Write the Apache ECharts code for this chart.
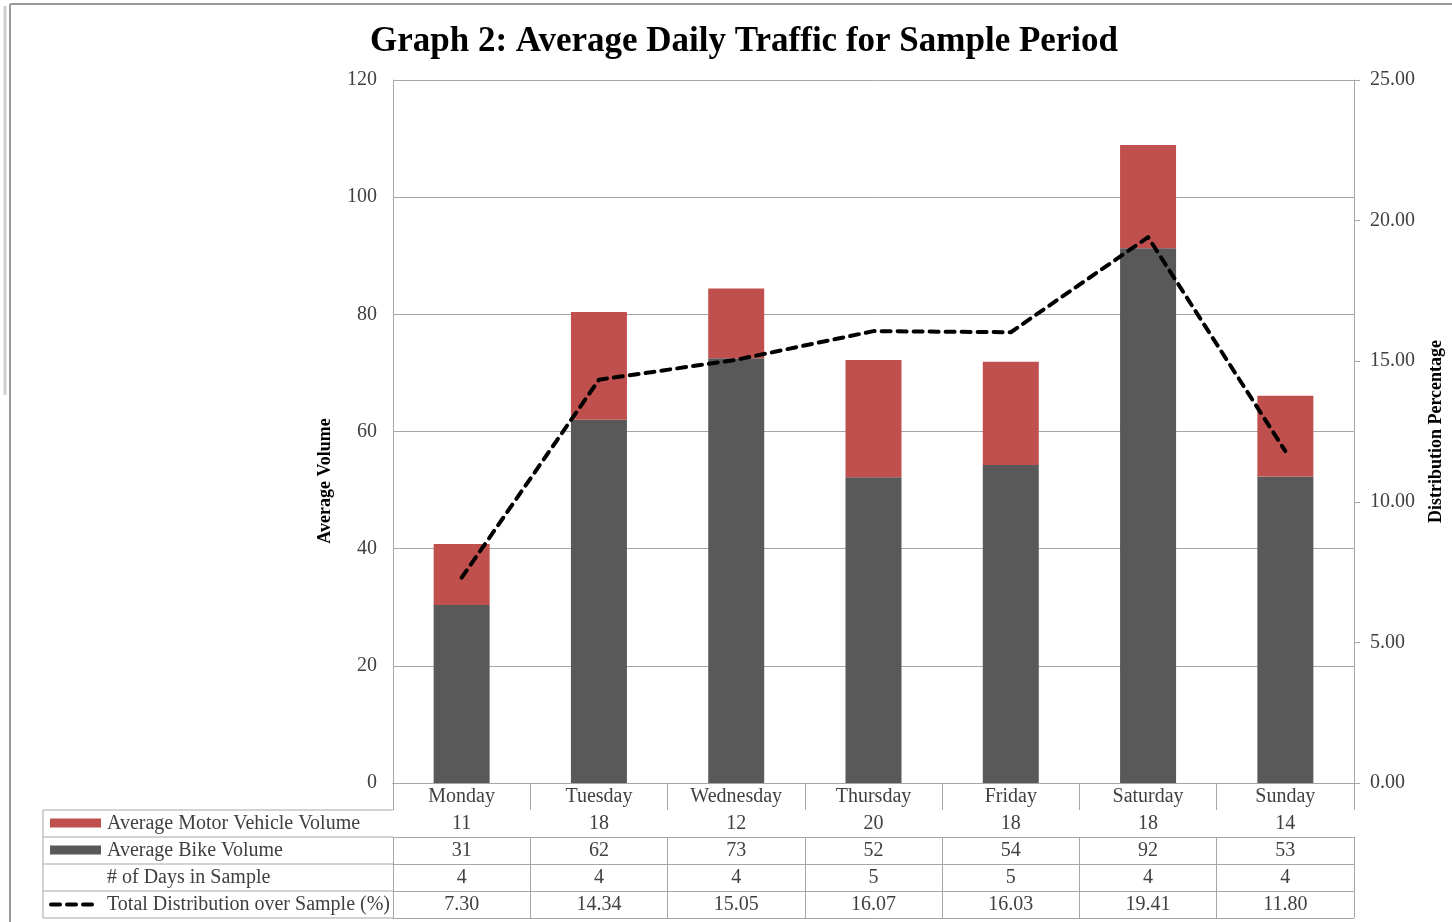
<!DOCTYPE html>
<html>
<head>
<meta charset="utf-8">
<title>Graph 2: Average Daily Traffic for Sample Period</title>
<script src="https://cdn.jsdelivr.net/npm/echarts@6/dist/echarts.min.js"></script>
<style>
  html, body { margin: 0; padding: 0; background: #fff; }
  #chart { width: 1452px; height: 922px; }
</style>
</head>
<body>
<div id="chart"></div>
<script>
// categories
const days = ["Monday", "Tuesday", "Wednesday", "Thursday", "Friday", "Saturday", "Sunday"];
// bar values (stacked: bike at bottom, motor on top)
const bikeVolume = [30.4, 62.0, 72.5, 52.2, 54.3, 91.3, 52.3];
const motorVolume = [10.4, 18.4, 11.9, 20.0, 17.6, 17.6, 13.8];
// dashed line, right axis (%)
const distribution = [7.30, 14.34, 15.05, 16.07, 16.03, 19.41, 11.80];
// data table rows as printed
const motorRow = ["11", "18", "12", "20", "18", "18", "14"];
const bikeRow = ["31", "62", "73", "52", "54", "92", "53"];
const daysRow = ["4", "4", "4", "5", "5", "4", "4"];
const distRow = ["7.30", "14.34", "15.05", "16.07", "16.03", "19.41", "11.80"];

const tableRows = [motorRow, bikeRow, daysRow, distRow];
const rowNames = [
  "Average Motor Vehicle Volume",
  "Average Bike Volume",
  "# of Days in Sample",
  "Total Distribution over Sample (%)"
];

const RED = "#c0504d";
const GRAY = "#595959";
const LINE_GRAY = "#a6a6a6";
const TEXT = "#404040";
const FONT = "'Liberation Serif', 'Times New Roman', serif";

// layout
const W = 1452, H = 922;
const plotLeft = 393, plotRight = 1354, plotTop = 80, plotBottom = 783;
const rowH = 27;
const tableLeft = 43;

const chart = echarts.init(document.getElementById("chart"));

// x axes: one for the category row, one per data table row, one closing line
const xAxes = [];
for (let r = 0; r <= tableRows.length + 1; r++) {
  const isLast = r === tableRows.length + 1;
  xAxes.push({
    type: "category",
    data: days,
    position: "bottom",
    offset: r * rowH,
    axisLine: { show: true, lineStyle: { color: LINE_GRAY, width: 1 } },
    axisTick: { show: !isLast, interval: 0, length: rowH, lineStyle: { color: LINE_GRAY } },
    axisLabel: {
      show: !isLast,
      interval: 0,
      margin: 4,
      color: TEXT,
      fontFamily: FONT,
      fontSize: 20,
      formatter: function (v, i) {
        return r === 0 ? v : tableRows[r - 1][i];
      }
    },
    splitLine: { show: false }
  });
}

// left column of the data table: lines, legend keys, row names
const graphics = [];
for (let k = 1; k <= tableRows.length + 1; k++) {
  const y = plotBottom + k * rowH;
  graphics.push({
    type: "line",
    shape: { x1: tableLeft, y1: y, x2: plotLeft, y2: y },
    style: { stroke: LINE_GRAY, lineWidth: 1 }
  });
}
graphics.push({
  type: "line",
  shape: { x1: tableLeft, y1: plotBottom + rowH, x2: tableLeft, y2: plotBottom + rowH * (tableRows.length + 1) },
  style: { stroke: LINE_GRAY, lineWidth: 1 }
});
rowNames.forEach(function (name, i) {
  const cy = plotBottom + rowH * (i + 1) + rowH / 2;
  if (i === 0 || i === 1) {
    graphics.push({
      type: "rect",
      shape: { x: 50, y: cy - 5, width: 51, height: 9 },
      style: { fill: i === 0 ? RED : GRAY }
    });
  } else if (i === 3) {
    graphics.push({
      type: "line",
      shape: { x1: 51, y1: cy, x2: 97, y2: cy },
      style: { stroke: "#000", lineWidth: 4, lineDash: [9, 7], lineCap: "round" }
    });
  }
  graphics.push({
    type: "text",
    x: 107,
    y: cy,
    style: { text: name, fill: TEXT, font: "20px " + FONT, verticalAlign: "middle" }
  });
});
// axis name on the left
graphics.push({
  type: "text",
  x: 325,
  y: 481,
  rotation: Math.PI / 2,
  style: {
    text: "Average Volume",
    fill: "#000",
    font: "bold 18px " + FONT,
    align: "center",
    verticalAlign: "middle"
  }
});
// page frame
graphics.push(
  { type: "line", shape: { x1: 10, y1: 4, x2: W, y2: 4 }, style: { stroke: "#9a9a9a", lineWidth: 2 } },
  { type: "line", shape: { x1: 10, y1: 4, x2: 10, y2: H }, style: { stroke: "#9a9a9a", lineWidth: 2 } },
  { type: "line", shape: { x1: 5, y1: 6, x2: 5, y2: 395 }, style: { stroke: "#cfcfcf", lineWidth: 3 } }
);

const option = {
  backgroundColor: "#fff",
  animation: false,
  title: {
    text: "Graph 2: Average Daily Traffic for Sample Period",
    left: 739,
    textAlign: "center",
    top: 19,
    textStyle: { fontFamily: FONT, fontWeight: "bold", fontSize: 35, color: "#000" }
  },
  grid: {
    left: plotLeft,
    right: W - plotRight,
    top: plotTop,
    bottom: H - plotBottom,
    containLabel: false,
    outerBoundsMode: "none"
  },
  xAxis: xAxes,
  yAxis: [
    {
      type: "value",
      min: 0,
      max: 120,
      interval: 20,
      axisLine: { show: true, lineStyle: { color: LINE_GRAY } },
      axisTick: { show: false },
      axisLabel: { color: TEXT, fontFamily: FONT, fontSize: 20, margin: 16 },
      splitLine: { show: true, lineStyle: { color: LINE_GRAY, width: 1 } }
    },
    {
      type: "value",
      min: 0,
      max: 25,
      interval: 5,
      position: "right",
      name: "Distribution Percentage",
      nameLocation: "middle",
      nameGap: 73,
      nameTextStyle: { fontFamily: FONT, fontWeight: "bold", fontSize: 18, color: "#000" },
      axisLine: { show: true, lineStyle: { color: LINE_GRAY } },
      axisTick: { show: true, length: 6, lineStyle: { color: LINE_GRAY } },
      axisLabel: {
        color: TEXT,
        fontFamily: FONT,
        fontSize: 20,
        margin: 16,
        formatter: function (v) { return v.toFixed(2); }
      },
      splitLine: { show: false }
    }
  ],
  series: [
    {
      name: "Average Bike Volume",
      type: "bar",
      stack: "volume",
      barWidth: 56,
      itemStyle: { color: GRAY },
      data: bikeVolume
    },
    {
      name: "Average Motor Vehicle Volume",
      type: "bar",
      stack: "volume",
      barWidth: 56,
      itemStyle: { color: RED },
      data: motorVolume
    },
    {
      name: "Total Distribution over Sample (%)",
      type: "line",
      yAxisIndex: 1,
      symbol: "none",
      lineStyle: { color: "#000", width: 4, type: [9, 7], cap: "round", join: "round" },
      data: distribution,
      z: 5
    }
  ],
  graphic: graphics
};

chart.setOption(option);
</script>
</body>
</html>
